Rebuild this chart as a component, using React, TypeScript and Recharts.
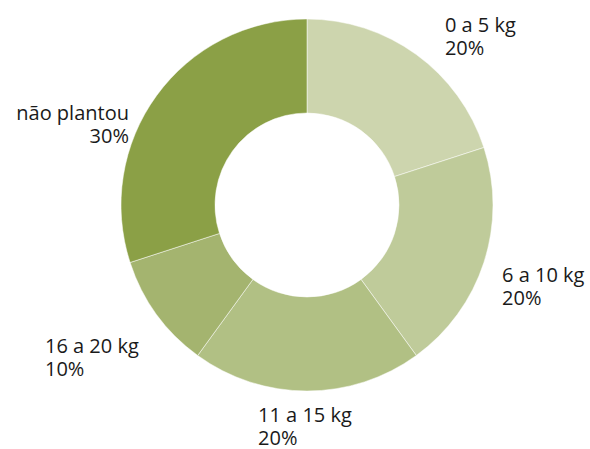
import { PieChart, Pie, Cell } from "recharts";

const categories = ["0 a 5 kg", "6 a 10 kg", "11 a 15 kg", "16 a 20 kg", "não plantou"];
const shares = [20, 20, 20, 10, 30];
const colors = ["#CDD5AE", "#BFCB9A", "#B1C084", "#A4B46F", "#8BA046"];

const data = categories.map((name, i) => ({ name, value: shares[i] }));

// nudges from the point just outside each slice to the first text line
const labelPos = [
  { dx: 18, dy: -8, anchor: "start" },
  { dx: 1, dy: 14, anchor: "start" },
  { dx: -49, dy: 13, anchor: "start" },
  { dx: -97, dy: 28, anchor: "start" },
  { dx: -13, dy: 35, anchor: "end" },
];

const RAD = Math.PI / 180;
const font = { fontFamily: "Open Sans", fontSize: 20 };

const renderLabel = (props: any) => {
  const { cx, cy, midAngle, outerRadius, index } = props;
  const r = outerRadius + 18;
  const p = labelPos[index];
  const x = cx + r * Math.cos(-midAngle * RAD) + p.dx;
  const y = cy + r * Math.sin(-midAngle * RAD) + p.dy;
  return (
    <g>
      <text x={x} y={y} textAnchor={p.anchor} fill="#1a1a1a" style={font}>
        {categories[index]}
      </text>
      <text x={x} y={y + 23} textAnchor={p.anchor} fill="#1a1a1a" style={font}>
        {shares[index]}%
      </text>
    </g>
  );
};

export default function App() {
  return (
    <div style={{ position: "absolute", left: 0, top: 0, width: 590, height: 449, background: "#fff" }}>
      <PieChart width={590} height={449} margin={{ top: 0, right: 0, bottom: 0, left: 0 }}>
        <Pie
          data={data}
          dataKey="value"
          cx={307}
          cy={205}
          innerRadius={92}
          outerRadius={186}
          startAngle={90}
          endAngle={-270}
          stroke="#fff"
          strokeWidth={0.5}
          label={renderLabel}
          labelLine={false}
          isAnimationActive={false}
        >
          {data.map((d, i) => (
            <Cell key={d.name} fill={colors[i]} />
          ))}
        </Pie>
      </PieChart>
    </div>
  );
}
